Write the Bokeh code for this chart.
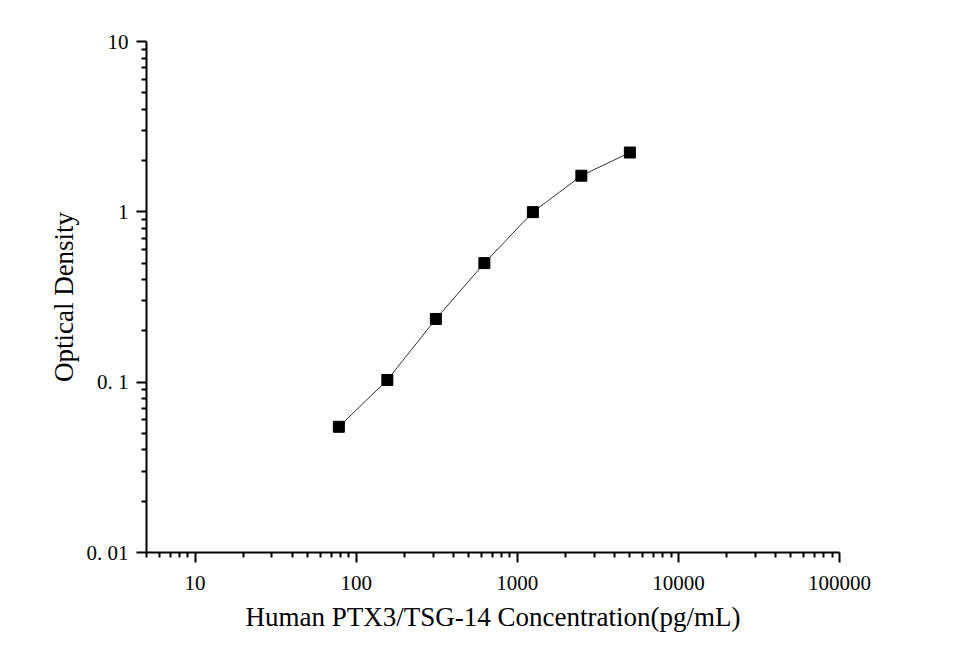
from bokeh.plotting import figure
from bokeh.models import FixedTicker, CustomJSTickFormatter, Range1d
from bokeh.embed import file_html
from bokeh.resources import INLINE

# Data
concentration = [78.125, 156.25, 312.5, 625, 1250, 2500, 5000]
optical_density = [0.0547, 0.103, 0.235, 0.50, 0.996, 1.63, 2.23]

x_ticks = [10, 100, 1000, 10000, 100000]
x_labels = ["10", "100", "1000", "10000", "100000"]
y_ticks = [0.01, 0.1, 1, 10]
y_labels = ["0. 01", "0. 1", "1", "10"]

x_title = "Human PTX3/TSG-14 Concentration(pg/mL)"
y_title = "Optical Density"

FONT = "Liberation Serif"

p = figure(width=950, height=648, x_axis_type="log", y_axis_type="log",
           x_range=Range1d(5, 100000), y_range=Range1d(0.01, 10),
           output_backend="svg", toolbar_location=None,
           min_border_left=146, min_border_top=41,
           min_border_right=111, min_border_bottom=96)
p.outline_line_color = None
p.grid.visible = False
p.background_fill_color = "white"
p.border_fill_color = "white"

x_minor = [m * 10 ** e for e in range(0, 5) for m in range(2, 10) if 5 <= m * 10 ** e < 100000]
y_minor = [m * 10.0 ** e for e in range(-2, 1) for m in range(2, 10)]

p.xaxis.ticker = FixedTicker(ticks=x_ticks, minor_ticks=x_minor)
p.yaxis.ticker = FixedTicker(ticks=y_ticks, minor_ticks=y_minor)

fmt_code = """
const i = tvals.findIndex(t => Math.abs(Math.log10(t) - Math.log10(tick)) < 1e-6);
return i >= 0 ? tlabels[i] : '';
"""
p.xaxis.formatter = CustomJSTickFormatter(args=dict(tvals=x_ticks, tlabels=x_labels), code=fmt_code)
p.yaxis.formatter = CustomJSTickFormatter(args=dict(tvals=y_ticks, tlabels=y_labels), code=fmt_code)

for ax in (p.xaxis, p.yaxis):
    ax.axis_line_width = 2
    ax.axis_line_color = "black"
    ax.major_tick_line_width = 2
    ax.minor_tick_line_width = 2
    ax.major_tick_line_color = "black"
    ax.minor_tick_line_color = "black"
    ax.major_tick_out = 10
    ax.major_tick_in = 0
    ax.minor_tick_out = 5
    ax.minor_tick_in = 0
    ax.major_label_text_font = FONT
    ax.major_label_text_font_size = "21px"
    ax.major_label_text_color = "black"
    ax.axis_label_text_font = FONT
    ax.axis_label_text_font_size = "27px"
    ax.axis_label_text_font_style = "normal"
    ax.axis_label_text_color = "black"

p.xaxis.axis_label = x_title
p.yaxis.axis_label = y_title
p.yaxis.major_label_standoff = 8
p.xaxis.major_label_standoff = 13
p.yaxis.axis_label_standoff = 5
p.xaxis.axis_label_standoff = 9

p.line(concentration, optical_density, line_color="#333333", line_width=1)
p.scatter(concentration, optical_density, marker="square", size=11,
          fill_color="black", line_color="black")

open("out.html", "w").write(file_html(p, INLINE))
